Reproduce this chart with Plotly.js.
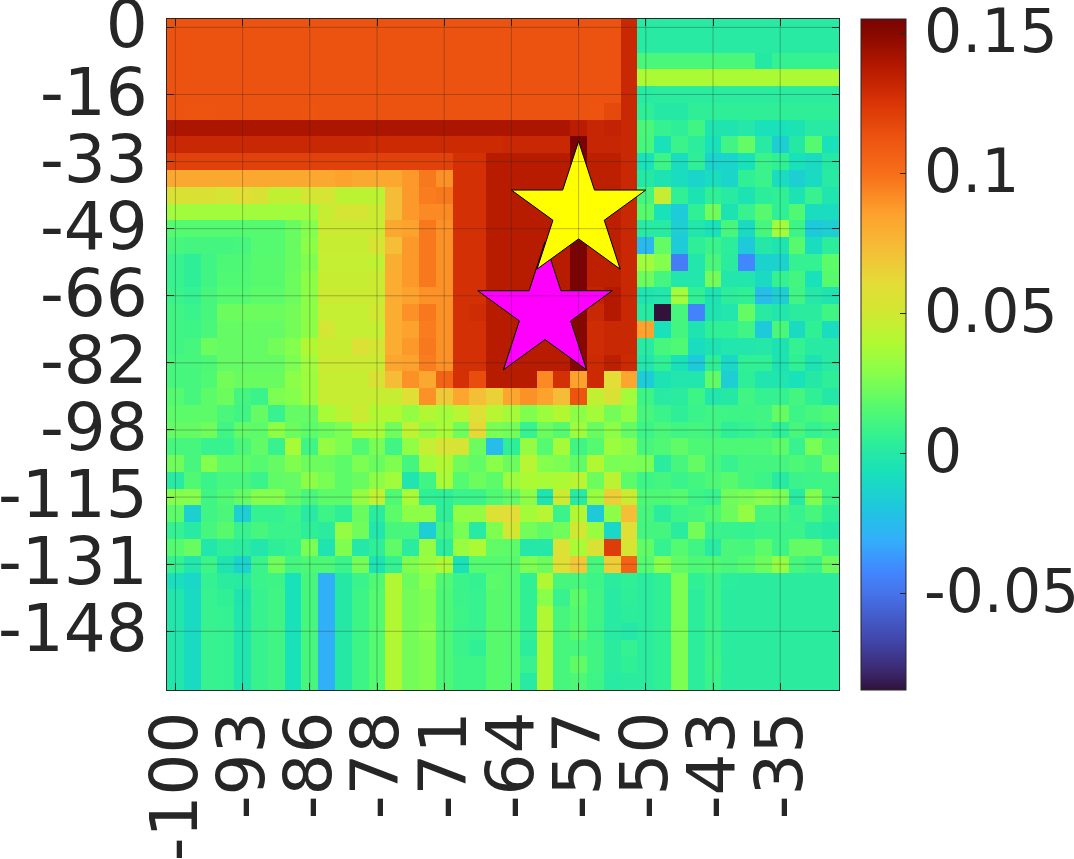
<!DOCTYPE html>
<html>
<head>
<meta charset="utf-8">
<script src="https://cdn.plot.ly/plotly-3.0.1.min.js"></script>
<style>
    html, body { margin: 0; padding: 0; background: #fff; overflow: hidden; }
</style>
</head>
<body>
<div id="chart" style="width:1074px;height:859px;"></div>
<script>
// Tick positions are grid indexes, labels as printed on the axes
const xTickIdx = [0, 4, 8, 12, 16, 20, 24, 28, 32, 36];
const xTickText = ['-100', '-93', '-86', '-78', '-71', '-64', '-57', '-50', '-43', '-35'];
const yTickIdx = [0, 4, 8, 12, 16, 20, 24, 28, 32, 36];
const yTickText = ['0', '-16', '-33', '-49', '-66', '-82', '-98', '-115', '-131', '-148'];
const cbTicks = [0.15, 0.1, 0.05, 0, -0.05];
const cbTickText = ['0.15', '0.1', '0.05', '0', '-0.05'];

// Stars (grid index)
const starX = [22, 24];
const starY = [17, 11];
const starColors = ['#ff00ff', '#ffff00'];

// Colormap
const stopValues = [-0.0846, -0.078, -0.067, -0.05, -0.042, -0.031, -0.019, -0.007, 0, 0.0046, 0.0164, 0.0286, 0.039, 0.05, 0.0607, 0.0725, 0.0857, 0.1, 0.114, 0.126, 0.138, 0.15, 0.155];
const stopColors = ['rgb(48,18,59)', 'rgb(60,40,110)', 'rgb(65,70,170)', 'rgb(70,115,235)', 'rgb(65,135,255)', 'rgb(50,175,250)', 'rgb(30,200,220)', 'rgb(25,225,185)', 'rgb(38,232,165)', 'rgb(47,240,150)', 'rgb(85,250,110)', 'rgb(135,255,75)', 'rgb(175,250,50)', 'rgb(208,232,50)', 'rgb(228,220,55)', 'rgb(245,190,55)', 'rgb(254,160,45)', 'rgb(247,110,25)', 'rgb(235,80,15)', 'rgb(215,50,5)', 'rgb(180,25,0)', 'rgb(135,8,0)', 'rgb(122,4,3)'];

// Matrix, top row first
const r00 = [.113,.113,.113,.113,.113,.113,.113,.113,.113,.113,.113,.113,.113,.113,.113,.113,.113,.113,.113,.113,.113,.113,.113,.113,.113,.113,.113,.131,.001,.001,.001,.001,.001,.001,.001,.001,.001,.001,.001,.001];
const r01 = [.113,.113,.113,.113,.113,.113,.113,.113,.113,.113,.113,.113,.113,.113,.113,.113,.113,.113,.113,.113,.113,.113,.113,.113,.113,.113,.113,.131,.001,.001,.001,.001,.001,.001,.001,.001,.001,.001,.001,.001];
const r02 = [.113,.113,.113,.113,.113,.113,.113,.113,.113,.113,.113,.113,.113,.113,.113,.113,.113,.113,.113,.113,.113,.113,.113,.113,.113,.113,.113,.131,.013,.013,.013,.013,.013,.013,.013,0,.006,.006,.006,.006];
const r03 = [.113,.113,.113,.113,.113,.113,.113,.113,.113,.113,.113,.113,.113,.113,.113,.113,.113,.113,.113,.113,.113,.113,.113,.113,.113,.113,.113,.131,.038,.038,.038,.038,.038,.038,.038,.038,.038,.038,.038,.038];
const r04 = [.113,.113,.113,.113,.113,.113,.113,.113,.113,.113,.113,.113,.113,.113,.113,.113,.113,.113,.113,.113,.113,.113,.113,.113,.113,.113,.113,.131,.001,.002,.002,.002,.002,.002,.002,.002,.002,.002,.002,.002];
const r05 = [.113,.112,.112,.113,.113,.113,.113,.113,.112,.113,.113,.113,.113,.113,.113,.113,.113,.113,.113,.113,.113,.113,.113,.113,.113,.112,.117,.131,.004,0,0,.004,.004,.004,.004,.004,.004,.004,.004,.004];
const r06 = [.14,.14,.14,.14,.14,.14,.14,.14,.14,.14,.14,.14,.14,.14,.14,.14,.14,.14,.14,.14,.14,.14,.14,.14,.136,.132,.133,.131,.013,.006,.004,.01,-.004,-.004,-.001,-.007,-.007,-.005,.001,.001];
const r07 = [.131,.131,.131,.131,.131,.131,.131,.131,.131,.131,.131,.131,.13,.13,.13,.13,.13,.13,.13,.13,.131,.131,.131,.131,.155,.132,.132,.131,.012,-.007,.008,.003,-.007,.01,.02,.001,-.016,0,.016,-.007];
const r08 = [.12,.12,.12,.12,.12,.12,.12,.12,.12,.12,.12,.12,.12,.12,.12,.12,.12,.127,.127,.137,.137,.137,.137,.137,.155,.135,.135,.131,-.007,.009,-.009,.004,-.014,-.013,-.007,.008,.005,-.007,-.01,0];
const r09 = [.082,.082,.082,.082,.082,.082,.082,.082,.082,.082,.085,.082,.082,.082,.088,.097,.09,.127,.127,.137,.137,.137,.137,.137,.155,.135,.135,.131,0,-.005,-.009,-.013,-.009,-.013,.005,.008,-.009,-.016,-.01,.001];
const r10 = [.055,.055,.055,.052,.058,.055,.045,.045,.052,.052,.043,.043,.043,.073,.088,.096,.097,.127,.127,.137,.137,.137,.137,.137,.155,.135,.135,.131,.011,.047,.005,-.005,.005,.001,-.005,.003,.005,-.005,.007,-.003];
const r11 = [.035,.035,.035,.035,.035,.035,.035,.035,.035,.047,.052,.052,.048,.073,.088,.092,.092,.127,.127,.137,.137,.137,.137,.137,.155,.135,.135,.131,.017,-.007,-.017,.005,.023,-.005,.007,.017,.005,.015,-.009,-.009];
const r12 = [.016,.016,.016,.016,.016,.016,.016,.021,.028,.048,.048,.048,.048,.082,.085,.097,.09,.127,.127,.137,.137,.137,.137,.137,.155,.135,.135,.131,.001,.001,-.016,-.002,-.007,.012,-.01,.012,.035,.009,-.018,-.016];
const r13 = [.012,.011,.011,.011,.012,.016,.016,.021,.03,.047,.047,.047,.054,.072,.088,.097,.09,.127,.127,.137,.137,.137,.137,.137,.155,.135,.135,.131,-.026,.02,-.017,.004,.008,.003,-.018,-.001,-.004,.017,-.009,.003];
const r14 = [.007,.004,.01,.014,.014,.017,.017,.021,.027,.046,.046,.046,.044,.08,.088,.097,.09,.127,.127,.137,.137,.137,.137,.137,.155,.135,.135,.131,.035,.028,-.046,-.002,.013,.002,-.042,-.014,-.014,.006,.006,.018];
const r15 = [.007,.004,.01,.015,.015,.017,.017,.022,.03,.047,.047,.047,.048,.08,.088,.097,.09,.127,.127,.137,.137,.137,.137,.137,.155,.135,.135,.131,.022,.011,-.002,-.002,.024,-.002,-.002,-.01,.006,.011,-.007,.017];
const r16 = [.008,.006,.012,.016,.016,.018,.018,.022,.03,.048,.048,.048,.048,.08,.085,.09,.09,.127,.127,.137,.137,.137,.137,.137,.155,.133,.138,.131,-.004,-.002,.035,.005,-.005,.003,.005,-.024,-.016,.01,-.001,-.004];
const r17 = [.01,.008,.012,.022,.022,.022,.022,.024,.03,.046,.046,.046,.05,.08,.09,.097,.09,.127,.129,.137,.137,.137,.137,.137,.15,.131,.138,.131,.001,-.0846,.012,-.044,-.004,-.002,.02,.001,-.002,.002,.002,.01];
const r18 = [.01,.009,.013,.02,.02,.02,.02,.024,.03,.052,.046,.046,.046,.08,.085,.096,.09,.127,.127,.137,.137,.137,.137,.137,.15,.129,.131,.131,.085,-.007,.011,-.004,.005,.005,.01,-.018,.013,-.01,.005,-.009];
const r19 = [.01,.012,.022,.02,.02,.02,.024,.028,.04,.047,.047,.056,.052,.08,.088,.097,.09,.127,.127,.137,.137,.137,.137,.137,.15,.129,.131,.131,.001,.012,.015,-.009,-.005,-.002,-.002,-.001,-.005,.006,.001,.001];
const r20 = [.012,.012,.014,.02,.02,.02,.02,.026,.035,.048,.048,.048,.048,.083,.085,.096,.09,.127,.127,.137,.137,.137,.137,.137,.15,.13,.135,.13,-.002,.005,-.007,-.018,.004,-.012,.005,.005,-.005,.005,-.005,.001];
const r21 = [.012,.012,.015,.024,.021,.021,.021,.03,.034,.047,.047,.047,.055,.073,.09,.082,.105,.127,.115,.137,.137,.137,.092,.127,.085,.13,.06,.083,-.017,-.005,-.002,-.002,.019,-.016,.004,-.003,-.003,-.007,0,.004];
const r22 = [.016,.012,.018,.022,.011,.008,.026,.028,.034,.047,.047,.047,.047,.047,.058,.09,.068,.083,.072,.065,.083,.09,.085,.073,.112,.045,.055,.036,.009,.001,.002,.009,-.002,0,.01,.006,.006,.011,.005,-.001];
const r23 = [.018,.018,.018,.013,.01,.02,.007,.02,.02,.037,.043,.048,.04,.04,.032,.04,.036,.042,.057,.042,.036,.027,.034,.04,.03,.036,.024,.031,.012,.008,.004,.008,.01,.009,.009,.01,.02,.009,.012,.015];
const r24 = [.02,.02,.023,.01,.019,.018,.03,.022,.018,.022,.026,.038,.037,.023,.044,.032,.037,.023,.062,.025,.024,.007,.022,.017,.034,.021,.03,.02,.009,.013,.01,.011,.01,.004,.006,.009,.004,.012,.006,.009];
const r25 = [.012,.012,.007,.007,.013,.019,.007,.037,.01,.032,.026,.015,.025,.01,.031,.046,.054,.054,.022,-.025,.004,.032,.016,.036,.01,.016,.034,.03,.012,.015,.019,.014,.014,.014,.014,.014,.018,.007,.025,.015];
const r26 = [.023,.012,.028,.018,.018,.016,.02,.027,.022,.022,.018,.026,.021,.027,.011,.036,.04,.023,.019,.029,.022,.042,.028,.026,.019,.04,.025,.026,.025,.002,.012,.02,.012,.007,.011,.011,.011,.014,.011,.022];
const r27 = [.001,.015,.008,.012,.012,.008,.019,.02,.03,.025,.018,.021,.03,.035,-.003,.01,.037,.016,.022,.018,.034,.038,.037,.038,.042,.022,.043,.018,.009,.011,.008,.011,.014,.017,.011,.009,.001,.008,.009,.01];
const r28 = [.028,.028,.01,.015,.02,.028,.028,.019,.013,.018,.018,.032,.044,.015,.037,.005,.004,.008,.008,.015,.019,.03,-.004,.048,.001,.033,.066,.048,.014,.014,.016,.009,.007,.023,.025,.029,.025,.001,.027,.009];
const r29 = [.018,-.015,.01,.013,-.016,.006,.006,.009,.001,.009,.004,.021,.002,.018,.03,.03,.004,.031,.032,.057,.06,.036,.042,.008,.04,-.018,.03,.072,.012,.002,.009,.011,.015,.022,.032,.011,.011,.007,.012,.004];
const r30 = [.006,.001,.012,.017,.007,.012,.008,.008,.004,.002,.032,.023,-.002,.012,.012,-.016,.01,.025,.001,.027,.05,.024,.019,.023,.05,.033,-.012,.058,.011,.011,.002,.024,.008,.007,.006,.008,.008,.008,.002,0];
const r31 = [.016,.021,-.002,.004,.002,-.002,.004,.006,.025,-.004,.027,-.001,.004,.019,.002,.032,.003,.033,.038,.019,.018,-.001,-.001,.056,.037,.055,.122,.053,.019,.006,.016,.01,.001,.013,.012,.018,.009,.02,.02,.01];
const r32 = [.006,-.002,.009,-.004,-.014,.008,.023,.011,.014,.014,.008,.024,-.005,.006,.027,.033,.038,-.006,.016,.016,.017,.026,.022,.058,.068,.012,.066,.105,.016,.029,.019,.014,.015,.013,.016,.022,.032,.012,.008,.022];
const r33 = [-.008,-.012,.006,.002,.001,.008,.009,-.007,.012,-.03,0,.008,.015,.04,.022,.029,.015,.008,.006,.018,.016,.005,.04,.012,.012,.009,.002,.005,.002,.005,.026,.005,.008,.003,.002,.002,.002,.002,.002,.002];
const r34 = [-.002,-.01,.007,.005,-.004,.007,.01,-.007,.012,-.03,0,.009,.016,.04,.024,.027,.014,.008,.007,.017,.016,.005,.029,.007,.018,.01,.001,.004,.002,.005,.026,.003,.008,.002,.002,.002,.002,.002,.002,.002];
const r35 = [-.002,-.01,.007,.006,-.003,.007,.01,-.007,.012,-.03,0,.009,.016,.04,.024,.027,.014,.009,.007,.017,.016,.005,.04,.012,.016,.01,.001,.003,.002,.005,.026,.003,.008,.002,.002,.002,.002,.002,.002,.002];
const r36 = [-.002,-.01,.007,.006,-.003,.007,.01,-.007,.012,-.03,0,.009,.016,.04,.024,.028,.014,.008,.007,.017,.016,.005,.04,.012,.017,.009,.001,-.001,.002,.005,.026,.003,.008,.002,.002,.002,.002,.002,.002,.002];
const r37 = [-.002,-.01,.007,.006,-.003,.007,.01,-.007,.012,-.03,0,.009,.016,.04,.024,.027,.014,.008,.005,.017,.016,.003,.04,.012,.012,.01,.002,.006,.002,.005,.026,.003,.008,.002,.002,.002,.002,.002,.002,.002];
const r38 = [-.002,-.01,.007,.006,-.003,.007,.01,-.007,.012,-.03,0,.009,.016,.04,.024,.027,.014,.009,.009,.017,.016,.007,.04,.012,.019,.01,.002,.005,.002,.005,.026,.003,.009,.002,.002,.002,.002,.002,.002,.002];
const r39 = [-.002,-.01,.007,.006,-.003,.007,.01,-.007,.012,-.03,0,.009,.016,.04,.024,.027,.014,.009,.009,.017,.016,.001,.04,.012,.014,.009,.001,.002,.002,.005,.026,.003,.008,.002,.002,.002,.002,.002,.002,.002];
const matrix = [r00, r01, r02, r03, r04, r05, r06, r07, r08, r09, r10, r11, r12, r13, r14, r15, r16, r17, r18, r19,
    r20, r21, r22, r23, r24, r25, r26, r27, r28, r29, r30, r31, r32, r33, r34, r35, r36, r37, r38, r39];

const zMin = -0.0846;
const zMax = 0.155;
const colorscale = stopValues.map((v, i) => [(v - zMin) / (zMax - zMin), stopColors[i]]);
colorscale[colorscale.length - 1][0] = 1;

const ink = '#262626';
const axisFont = { family: 'DejaVu Sans', size: 66, color: ink };
const cbFont = { family: 'DejaVu Sans', size: 60, color: ink };

const heat = {
    type: 'heatmap',
    z: matrix,
    zmin: zMin,
    zmax: zMax,
    zsmooth: false,
    colorscale: colorscale,
    hoverinfo: 'skip',
    colorbar: {
        x: 1.0327,
        xanchor: 'left',
        xpad: 0,
        y: 0.5,
        ypad: 0,
        len: 1,
        thickness: 45,
        outlinecolor: ink,
        outlinewidth: 1,
        ticks: 'inside',
        ticklen: 6,
        tickcolor: ink,
        tickwidth: 1,
        tickmode: 'array',
        tickvals: cbTicks,
        ticktext: cbTickText,
        tickfont: cbFont,
        ticklabeloverflow: 'allow'
    }
};

const stars = {
    type: 'scatter',
    mode: 'markers',
    x: starX,
    y: starY,
    hoverinfo: 'skip',
    marker: {
        symbol: 'star',
        size: 101,
        color: starColors,
        opacity: 1,
        line: { color: '#000000', width: 1 }
    }
};

// Grid sits on top of the image, so draw it as shapes
const gridLine = { color: 'rgba(38,38,38,0.3)', width: 1 };
const gridShapes = [
    ...xTickIdx.map(i => ({ type: 'line', xref: 'x', yref: 'paper', x0: i, x1: i, y0: 0, y1: 1, line: gridLine, layer: 'above' })),
    ...yTickIdx.map(i => ({ type: 'line', xref: 'paper', yref: 'y', x0: 0, x1: 1, y0: i, y1: i, line: gridLine, layer: 'above' }))
];

const axisBase = {
    tickmode: 'array',
    ticks: 'inside',
    ticklen: 7,
    tickwidth: 1,
    tickcolor: ink,
    showline: true,
    linecolor: ink,
    linewidth: 1,
    mirror: 'ticks',
    showgrid: false,
    zeroline: false,
    layer: 'above traces',
    tickfont: axisFont,
    ticklabeloverflow: 'allow',
    automargin: false
};

const layout = {
    width: 1074,
    height: 859,
    margin: { l: 167, r: 235, t: 19, b: 169, pad: 0, autoexpand: false },
    paper_bgcolor: '#ffffff',
    plot_bgcolor: '#ffffff',
    showlegend: false,
    shapes: gridShapes,
    xaxis: Object.assign({}, axisBase, {
        range: [-0.5, 39.5],
        tickvals: xTickIdx,
        ticktext: xTickText,
        tickangle: -90,
        ticklabelstandoff: -6
    }),
    yaxis: Object.assign({}, axisBase, {
        range: [39.5, -0.5],
        tickvals: yTickIdx,
        ticktext: yTickText,
        ticklabelstandoff: 5
    })
};

Plotly.newPlot('chart', [heat, stars], layout, { displayModeBar: false, staticPlot: true }).then(() => {
    // Colorbar has no label standoff option, nudge the labels away from the bar
    document.querySelectorAll('.colorbar text').forEach(label => {
        label.setAttribute('x', parseFloat(label.getAttribute('x') || 0) + 5);
        label.setAttribute('y', parseFloat(label.getAttribute('y') || 0) - 2);
    });
    document.querySelectorAll('.ytick text').forEach(label => {
        if (label.closest('.colorbar')) return;
        label.setAttribute('y', parseFloat(label.getAttribute('y') || 0) - 3);
    });
});
</script>
</body>
</html>
